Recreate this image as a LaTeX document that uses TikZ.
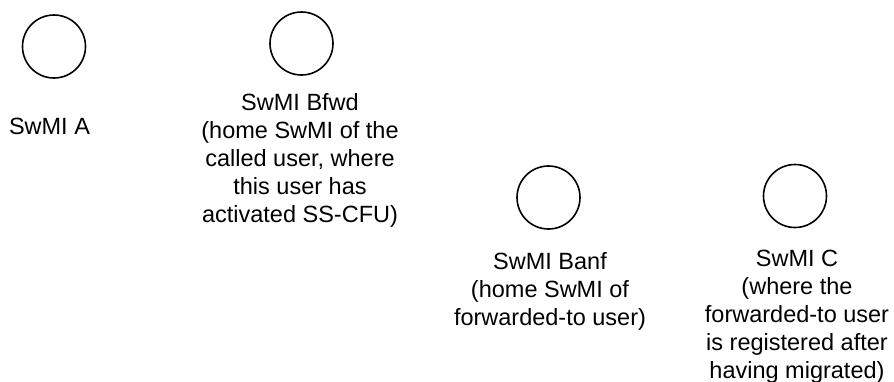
\documentclass[tikz,border=0pt]{standalone}
\usepackage{fontspec}
\setmainfont{Liberation Sans}
\begin{document}
\begin{tikzpicture}[x=1pt,y=-1pt,
  swmi/.style={circle,draw=black,line width=1.6pt,minimum size=63pt,inner sep=0pt},
  lbl/.style={anchor=north,inner sep=0pt,align=center,font=\fontsize{23.5}{28}\selectfont}]
\useasboundingbox (0,0) rectangle (894,381);
\node[swmi] (cA) at (54,46.5) {};
\node[swmi] (cBfwd) at (301.5,43.5) {};
\node[swmi] (cBanf) at (548.5,197.5) {};
\node[swmi] (cC) at (795,196) {};
\node[lbl] (tA) at (49.5,118) {SwMI A};
\node[lbl] (tBfwd) at (300,93) {SwMI Bfwd\\(home SwMI of the\\called user, where\\this user has\\activated SS-CFU)};
\node[lbl] (tBanf) at (550,252) {SwMI Banf\\(home SwMI of\\forwarded-to user)};
\node[lbl] (tC) at (797,250) {SwMI C\\(where the\\forwarded-to user\\is registered after\\having migrated)};
\end{tikzpicture}
\end{document}
